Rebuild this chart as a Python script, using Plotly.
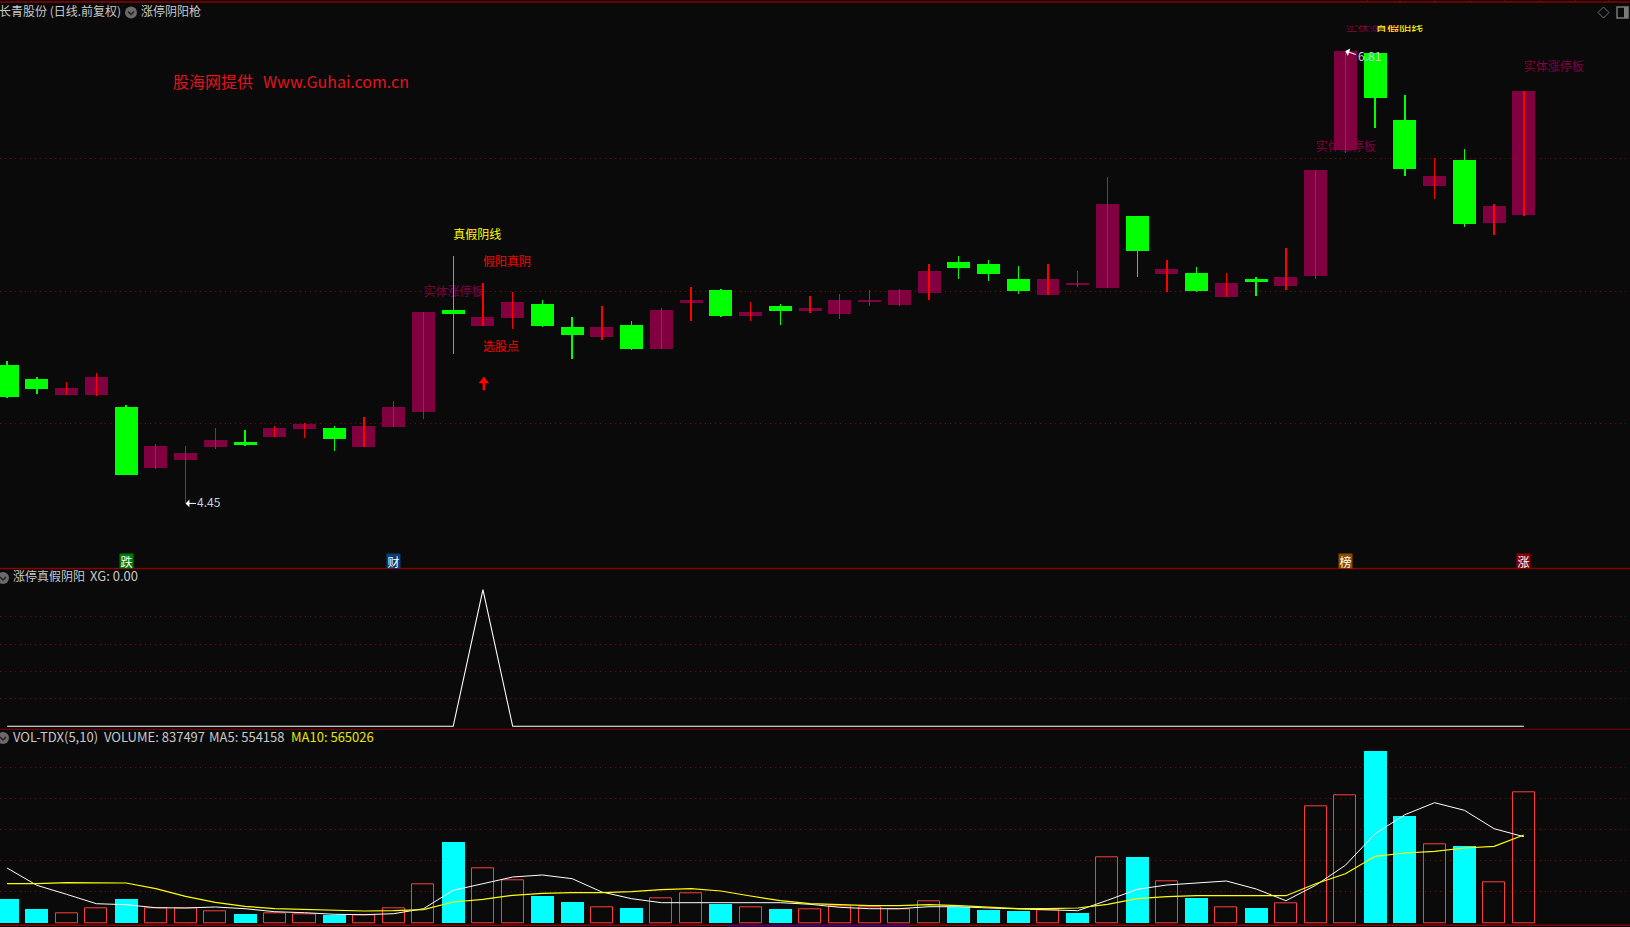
import plotly.graph_objects as go

W, H = 1630, 927
BG = "#0A0A0A"
DARK_RED = "#8C0000"
FONT = "Noto Sans CJK SC"

# ---------- data ----------
idx = list(range(52))
open_ = [5.170,5.097,5.014,5.014,4.951,4.633,4.674,4.742,4.768,4.794,4.836,4.841,4.742,4.847,4.925,5.457,5.374,5.416,5.489,5.369,
         5.317,5.379,5.254,5.494,5.562,5.426,5.478,5.452,5.437,5.504,5.484,5.546,5.708,5.698,5.619,5.536,5.593,5.572,5.948,5.645,
         5.651,5.525,5.619,5.583,5.635,6.293,6.799,6.449,6.105,6.241,5.912,5.953]
close = [5.003,5.045,5.050,5.108,4.596,4.747,4.711,4.779,4.753,4.841,4.862,4.784,4.852,4.951,5.447,5.437,5.421,5.499,5.374,5.327,
         5.369,5.254,5.457,5.510,5.426,5.447,5.452,5.468,5.510,5.510,5.562,5.661,5.677,5.645,5.557,5.619,5.598,6.011,5.766,5.672,
         5.557,5.598,5.604,5.630,6.188,6.81,6.564,6.194,6.157,5.906,6.000,6.601]
high = [5.191,5.108,5.082,5.129,4.961,4.758,4.747,4.841,4.831,4.852,4.868,4.852,4.899,4.982,5.447,5.739,5.598,5.551,5.510,5.421,
        5.478,5.400,5.468,5.578,5.567,5.499,5.489,5.531,5.541,5.562,5.567,5.698,5.739,5.719,5.687,5.698,5.661,6.152,5.948,5.719,
        5.682,5.651,5.630,5.781,6.188,6.81,6.799,6.580,6.251,6.298,6.011,6.601]
low = [4.998,5.019,5.014,5.008,4.596,4.627,4.45,4.732,4.747,4.794,4.789,4.721,4.742,4.847,4.888,5.228,5.374,5.358,5.369,5.202,
       5.301,5.249,5.254,5.400,5.421,5.400,5.379,5.442,5.410,5.478,5.478,5.510,5.619,5.609,5.541,5.536,5.578,5.572,5.630,5.551,
       5.551,5.525,5.531,5.562,5.619,6.277,6.408,6.157,6.037,5.891,5.849,5.948]

xg = [0.0]*16 + [1.0] + [0.0]*35

volume = [152200,88000,59700,91800,152200,91800,91800,72600,55900,59700,53300,49400,46900,91800,246000,518300,348700,271600,171500,132900,
          98300,94400,156100,188200,120100,98300,88000,85400,107200,98300,85400,136800,100800,81600,75100,79000,62300,419400,421900,265200,
          158600,98300,94400,123900,746900,817500,1102600,685200,502800,492600,258800,837497]
vol_down = [0,1,4,8,11,15,18,19,21,24,26,32,33,34,36,38,40,42,46,47,49]
ma5 = [353200,242100,184300,123900,117500,98300,96300,102800,91800,72600,66100,55900,53300,59700,91800,210000,252400,295400,308300,284500,
       199100,156100,130400,130400,130400,130400,130400,120100,100800,91800,91800,104700,104700,96300,91800,85400,79000,145800,216400,244000,
       258800,269700,218300,143200,242100,370600,573500,695500,772600,723800,605600,554158]
ma10 = [252400,252400,258800,258800,256900,220300,171500,132900,107200,91800,85400,79000,77100,79000,85400,134900,152200,177900,190700,194600,
        194600,201000,213900,220300,205500,173400,143200,123900,117500,111100,111100,117500,111100,102800,91800,91800,96300,120100,156100,168900,
        175300,175300,175300,175300,252400,316600,428400,449500,460500,481700,492600,565026]

label_idx = [14, 15, 16, 16, 44, 45, 46, 51]
label_price = [5.548, 5.846, 5.705, 5.261, 6.305, 6.916, 6.916, 6.720]
label_text = ["实体涨停板", "真假阴线", "假阳真阴", "选股点", "实体涨停板", "实体涨停板", "真假阴线", "实体涨停板"]
label_color = ["#800040", "#FFFF00", "#FF0000", "#FF0000", "#800040", "#800040", "#FFFF00", "#800040"]

badge_idx = [4, 13, 45, 51]
badge_text = ["跌", "财", "榜", "涨"]
badge_color = ["#007A00", "#0A3C78", "#8B4A00", "#8B0000"]

price_grid = [6.248, 5.554, 4.865]
xg_grid = [0.2, 0.4, 0.6, 0.8]
vol_grid = [200000, 400000, 600000, 800000, 1000000]

# ---------- layout geometry (pixels) ----------
def py(p):
    return 1 - p / H

def px(p):
    return p / W

X_RANGE = [-0.2387, 54.57]
PRICE_RANGE = [4.1105, 7.0656]
XG_RANGE = [-0.022, 1.154]
VOL_RANGE = [-14800, 1243900]
BODY_W = 0.773
WICK_W = 0.012
HOLLOW_W = 0.74

fig = go.Figure()

# labels sit under the candles: they live on the base axis, candles on an overlay
fig.add_trace(go.Scatter(x=label_idx, y=label_price, mode="text", text=label_text,
                         textposition="middle right", cliponaxis=False,
                         textfont=dict(family=FONT, size=12, color=label_color),
                         hoverinfo="skip", showlegend=False, xaxis="x", yaxis="y"))

up = [i for i in idx if close[i] >= open_[i]]
down = [i for i in idx if close[i] < open_[i]]

def body(ids, color):
    return go.Bar(x=ids, base=[min(open_[i], close[i]) for i in ids],
                  y=[abs(close[i] - open_[i]) for i in ids],
                  width=BODY_W, marker=dict(color=color, line=dict(width=0)),
                  hoverinfo="skip", showlegend=False, xaxis="x", yaxis="y4")

def wick(ids, color):
    return go.Bar(x=ids, base=[low[i] for i in ids], y=[high[i] - low[i] for i in ids],
                  width=WICK_W, marker=dict(color=color, line=dict(width=0)),
                  hoverinfo="skip", showlegend=False, xaxis="x", yaxis="y4")

fig.add_trace(body(up, "#800040"))
fig.add_trace(body(down, "#00FF00"))
fig.add_trace(wick(up, "#FF0000"))
fig.add_trace(wick(down, "#00FF00"))

# red buy arrow under the selected candle
fig.add_trace(go.Scatter(x=[16.03, 16.03], y=[5.040, 5.092], mode="lines",
                         line=dict(color="#FF0000", width=2.5),
                         hoverinfo="skip", showlegend=False, xaxis="x", yaxis="y4"))
fig.add_trace(go.Scatter(x=[16.03], y=[5.088], mode="markers",
                         marker=dict(symbol="triangle-up", size=9, color="#FF0000"),
                         hoverinfo="skip", showlegend=False, xaxis="x", yaxis="y4"))

# indicator pane
fig.add_trace(go.Scatter(x=idx, y=xg, mode="lines", line=dict(color="#FFFFFF", width=1.1),
                         hoverinfo="skip", showlegend=False, xaxis="x2", yaxis="y2"))

# volume pane
vd = vol_down
vu = [i for i in idx if i not in vd]
fig.add_trace(go.Bar(x=vd, y=[volume[i] for i in vd], width=BODY_W,
                     marker=dict(color="#00FFFF", line=dict(width=0)),
                     hoverinfo="skip", showlegend=False, xaxis="x3", yaxis="y3"))
fig.add_trace(go.Bar(x=vu, y=[volume[i] for i in vu], width=HOLLOW_W,
                     marker=dict(color="rgba(0,0,0,0)", line=dict(color="#FF3C3C", width=1)),
                     hoverinfo="skip", showlegend=False, xaxis="x3", yaxis="y3"))
fig.add_trace(go.Scatter(x=idx, y=ma5, mode="lines", line=dict(color="#FFFFFF", width=1),
                         hoverinfo="skip", showlegend=False, xaxis="x3", yaxis="y3"))
fig.add_trace(go.Scatter(x=idx, y=ma10, mode="lines", line=dict(color="#FFFF00", width=1.2),
                         hoverinfo="skip", showlegend=False, xaxis="x3", yaxis="y3"))

# ---------- decorations ----------
shapes = []

def hline(y, x0=0, x1=W, color=DARK_RED, width=1.5):
    shapes.append(dict(type="line", xref="paper", yref="paper", x0=px(x0), x1=px(x1),
                       y0=py(y), y1=py(y), line=dict(color=color, width=width), layer="above"))

def vtick(x, y0, y1):
    shapes.append(dict(type="line", xref="paper", yref="paper", x0=px(x), x1=px(x),
                       y0=py(y0), y1=py(y1), line=dict(color=DARK_RED, width=1), layer="above"))

hline(2)
hline(568.5)
hline(729.3, width=1)
hline(925.3)
hline(925.7, x0=728, x1=910, color="#4B0082", width=1.5)
for x in [18, 1367, 1400, 1435, 1470, 1505, 1540, 1575, 1609]:
    vtick(x, 0, 2)
for x in [191, 504, 661, 943, 1085, 1226]:
    vtick(x, 923, 925)

# masks that cut the two labels at the very top of the main pane
for y0, y1 in [(15, 25), (32, 42)]:
    shapes.append(dict(type="rect", xref="paper", yref="paper", x0=px(1335), x1=px(1435),
                       y0=py(y0), y1=py(y1), fillcolor=BG, line=dict(width=0), layer="above"))

def icon(cx, cy):
    shapes.append(dict(type="circle", xref="paper", yref="paper",
                       x0=px(cx - 6), x1=px(cx + 6), y0=py(cy - 6), y1=py(cy + 6),
                       fillcolor="#6A6A6A", line=dict(width=0), layer="above"))
    shapes.append(dict(type="path", xref="paper", yref="paper",
                       path=f"M {px(cx-3)} {py(cy-1)} L {px(cx)} {py(cy+2)} L {px(cx+3)} {py(cy-1)}",
                       line=dict(color="#1E1E1E", width=1.5), layer="above"))

icon(131, 12.5)
icon(3, 578)
icon(3, 738)

# top-right window icons
shapes.append(dict(type="path", xref="paper", yref="paper",
                   path=f"M {px(1598)} {py(12.5)} L {px(1603.5)} {py(7)} L {px(1609)} {py(12.5)} L {px(1603.5)} {py(18)} Z",
                   line=dict(color="#6E6E6E", width=1), layer="above"))
shapes.append(dict(type="rect", xref="paper", yref="paper", x0=px(1617), x1=px(1628), y0=py(7), y1=py(18),
                   line=dict(color="#7A7A7A", width=1.5), layer="above"))
shapes.append(dict(type="rect", xref="paper", yref="paper", x0=px(1624), x1=px(1628), y0=py(7), y1=py(18),
                   fillcolor="#7A7A7A", line=dict(width=0), layer="above"))

annotations = []

def ptext(x, y, text, color="#C8C8C8", size=12):
    # the rendered box sits about 2.5 px right of and 2 px below the requested point
    annotations.append(dict(xref="paper", yref="paper", x=px(x - 2.5), y=py(y - 2), text=text, showarrow=False,
                            xanchor="left", yanchor="middle", align="left",
                            font=dict(family=FONT, size=size, color=color)))

ptext(-1, 12.5, "长青股份 (日线.前复权)")
ptext(141, 12.5, "涨停阴阳枪")
ptext(13, 577.5, "涨停真假阴阳")
ptext(90, 577.5, "XG: 0.00", size=13)
ptext(13, 738, "VOL-TDX(5,10)", size=13)
ptext(104, 738, "VOLUME: 837497", size=13)
ptext(210, 738, "MA5: 554158", size=13)
ptext(291, 738, "MA10: 565026", color="#E6E600", size=13)
ptext(173, 83, "股海网提供", color="#E0141E", size=16)
ptext(263, 83, "Www.Guhai.com.cn", color="#E0141E", size=16)

# extreme-price tags: arrow and text are separate so the arrow stays level
for i, v, ax, ay in [(6, low[6], 12, 0), (45, high[45], 12, 4)]:
    annotations.append(dict(xref="x", yref="y", x=i, y=v, text="", showarrow=True,
                            ax=ax, ay=ay, axref="pixel", ayref="pixel",
                            arrowhead=1, arrowsize=1.3, arrowwidth=1, arrowcolor="#FFFFFF",
                            standoff=0, startstandoff=0))
for i, v, text, dx, dy in [(6, low[6], "4.45", 9, 2), (45, high[45], "6.81", 11, -4)]:
    annotations.append(dict(xref="x", yref="y", x=i, y=v, text=text, showarrow=False,
                            xshift=dx, yshift=dy, xanchor="left", yanchor="middle",
                            font=dict(family=FONT, size=12, color="#C8D2DC")))

# event badges along the bottom of the price pane
for i, t, c in zip(badge_idx, badge_text, badge_color):
    annotations.append(dict(xref="x", yref="y", x=i, y=4.150, text=t, showarrow=False,
                            width=13, height=14, bgcolor=c, borderpad=0, xanchor="center", yanchor="middle",
                            font=dict(family=FONT, size=12, color="#FFFFFF")))

def x_axis(anchor):
    return dict(domain=[0, 1], range=X_RANGE, anchor=anchor, visible=False, fixedrange=True)

def y_axis(domain, rng, grid):
    return dict(domain=domain, range=rng, anchor="free", position=0, showticklabels=False, ticks="",
                tickmode="array", tickvals=grid, showgrid=True, gridcolor=DARK_RED, gridwidth=1,
                griddash="1px,4px", zeroline=False, showline=False, fixedrange=True)

fig.update_layout(
    width=W, height=H, autosize=False,
    margin=dict(l=0, r=0, t=0, b=0),
    paper_bgcolor=BG, plot_bgcolor=BG,
    barmode="overlay", bargap=0, showlegend=False,
    font=dict(family=FONT, color="#C8C8C8"),
    xaxis=x_axis("y"), xaxis2=x_axis("y2"), xaxis3=x_axis("y3"),
    yaxis=y_axis([py(568.5), py(2)], PRICE_RANGE, price_grid),
    yaxis2=y_axis([py(729.3), py(568.5)], XG_RANGE, xg_grid),
    yaxis3=y_axis([py(925.3), py(729.3)], VOL_RANGE, vol_grid),
    yaxis4=dict(overlaying="y", range=PRICE_RANGE, visible=False, fixedrange=True),
    shapes=shapes, annotations=annotations,
)

fig.write_html("out.html", config=dict(displayModeBar=False),
               post_script="document.body.style.margin='0';document.body.style.overflow='hidden';document.body.style.background='%s';" % BG)
